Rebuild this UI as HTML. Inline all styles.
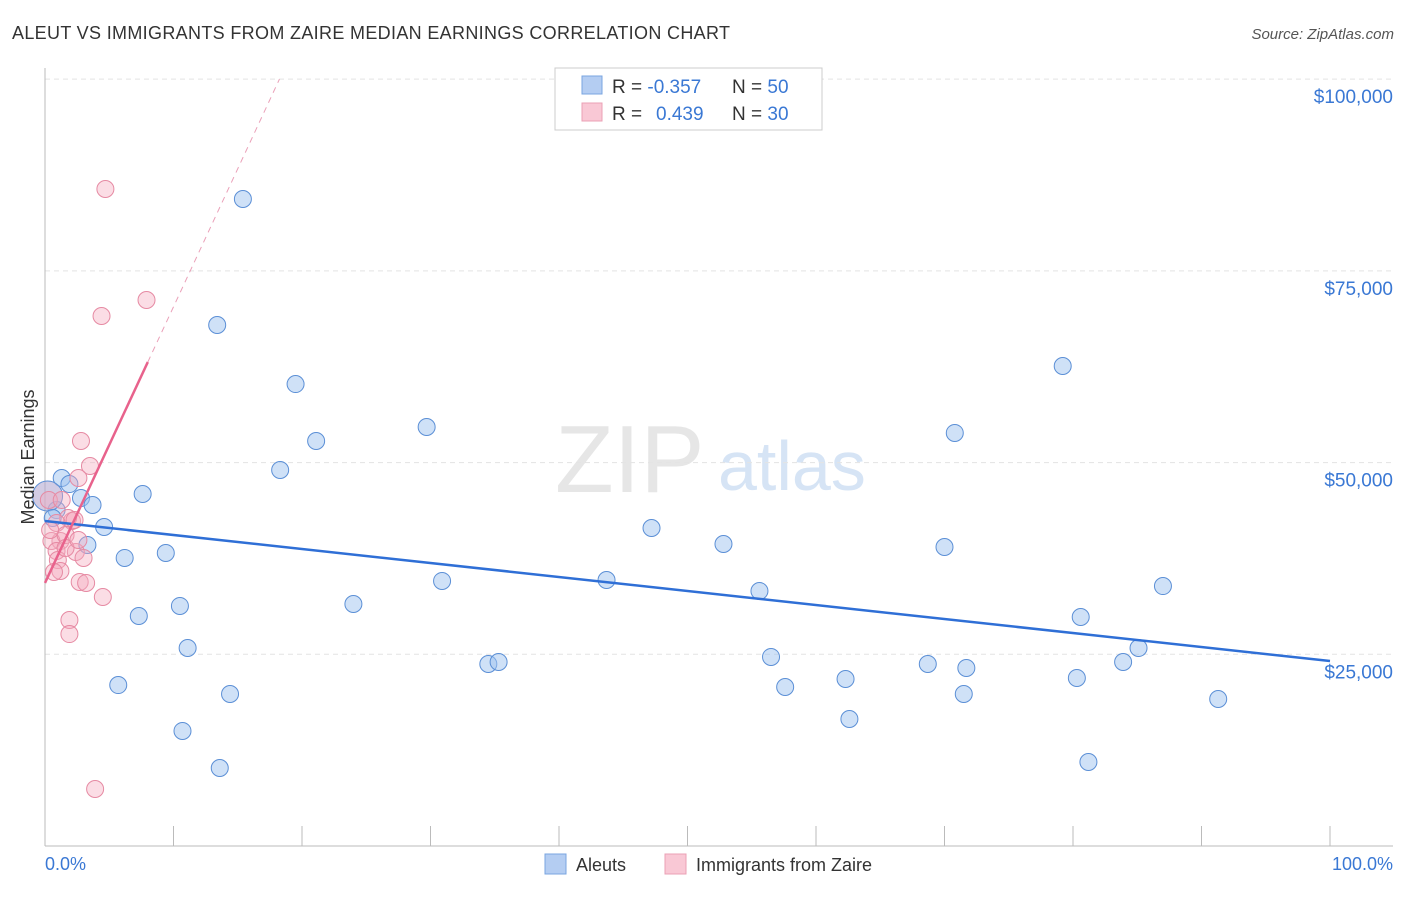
<!DOCTYPE html>
<html><head><meta charset="utf-8"><style>
body{margin:0;background:#fff;font-family:"Liberation Sans",sans-serif}
svg text{font-family:"Liberation Sans",sans-serif}
</style></head><body>
<svg id="chart" width="1406" height="892">
<text x="12" y="39" font-size="18" fill="#333" textLength="718" lengthAdjust="spacing">ALEUT VS IMMIGRANTS FROM ZAIRE MEDIAN EARNINGS CORRELATION CHART</text>
<text x="1394" y="39" font-size="15" fill="#555" text-anchor="end" font-style="italic">Source: ZipAtlas.com</text>
<text x="555" y="492" font-size="96" fill="#e6e6e6" font-family="Liberation Serif">ZIP</text>
<text x="718" y="490" font-size="70" fill="#d6e4f5">atlas</text>
<g id="grid"></g><g id="axes"></g><g id="marks"></g>
<text transform="translate(34,457) rotate(-90)" font-size="18" fill="#333" text-anchor="middle">Median Earnings</text>
<text x="45" y="870" font-size="18" fill="#3a78d4">0.0%</text>
<text x="1393" y="870" font-size="18" fill="#3a78d4" text-anchor="end">100.0%</text>
<g>
<rect x="555" y="68" width="267" height="62" fill="#fff" stroke="#ccc"/>
<rect x="582" y="76" width="20" height="18" fill="#b4cdf2" stroke="#7aa5e0"/>
<rect x="582" y="103" width="20" height="18" fill="#f9c8d5" stroke="#eba0b5"/>
<text x="612" y="93" font-size="19" fill="#333">R = <tspan fill="#3a78d4">-0.357</tspan><tspan x="732">N = </tspan><tspan fill="#3a78d4">50</tspan></text>
<text x="612" y="120" font-size="19" fill="#333">R = <tspan x="656" fill="#3a78d4">0.439</tspan><tspan x="732">N = </tspan><tspan fill="#3a78d4">30</tspan></text>
</g>
<g>
<rect x="545" y="854" width="21" height="20" fill="#b4cdf2" stroke="#7aa5e0"/>
<text x="576" y="871" font-size="18" fill="#333">Aleuts</text>
<rect x="665" y="854" width="21" height="20" fill="#f9c8d5" stroke="#eba0b5"/>
<text x="696" y="871" font-size="18" fill="#333">Immigrants from Zaire</text>
</g>
</svg>
<script>
const yTicks=[25000,50000,75000,100000];
const yTickLabels=["$25,000","$50,000","$75,000","$100,000"];
const aleutX=[1.3,1.9,0.9,2.8,3.7,4.6,3.3,6.2,7.6,9.4,7.3,10.5,11.1,5.7,14.4,10.7,13.6,15.4,13.4,19.5,21.1,18.3,24.0,29.7,30.9,34.5,35.3,43.7,47.2,52.8,55.6,56.5,57.6,62.3,62.6,68.7,70.8,70.0,71.7,71.5,79.2,80.6,80.3,81.2,83.9,85.1,87.0,91.3,0.2,0.6];
const aleutY=[47990,47200,43810,45380,44470,41600,39250,37560,45900,38210,29990,31300,25820,20990,19820,15000,10170,84370,67940,60240,52810,49030,31560,54640,34560,23730,23990,34690,41470,39380,33250,24650,20730,21780,16560,23730,53860,38990,23210,19820,62590,29860,21910,10950,23990,25820,33900,19170,45640,42770];
const zaireX=[4.7,4.4,7.9,2.8,3.5,2.6,2.1,1.8,0.9,1.2,0.5,0.9,1.6,1.0,2.4,3.0,1.2,0.7,2.7,3.2,4.5,1.9,1.9,3.9,0.3,1.3,2.3,0.4,1.6,2.6];
const zaireY=[85670,69110,71200,52810,49550,47990,42380,42770,42120,39770,39770,38470,40550,37290,38340,37560,35860,35730,34430,34300,32470,29470,27640,7430,45120,45120,42510,41210,38860,39900];
const aleutTrend=[42380,24120];
const zaireTrend=[34300,3601];
const NS='http://www.w3.org/2000/svg';
const X=p=>45+p*12.85, Y=v=>846-v/130.4;
function mk(t,a,p){const e=document.createElementNS(NS,t);for(const k in a)e.setAttribute(k,a[k]);p.appendChild(e);return e;}
const grid=document.getElementById('grid'),axes=document.getElementById('axes'),marks=document.getElementById('marks');
yTicks.forEach((v,i)=>{
 const l=mk('line',{x1:45,x2:1393,y1:Y(v),y2:Y(v),stroke:'#e3e3e3','stroke-dasharray':'5,4'},grid);
 
 
 const t=mk('text',{x:1393,y:Y(v)+24,'font-size':19,fill:'#3a78d4','text-anchor':'end'},grid);
 t.textContent=yTickLabels[i];
 
 
});
mk('line',{x1:45,x2:45,y1:68,y2:846,stroke:'#bbb'},axes);
mk('line',{x1:45,x2:1393,y1:846,y2:846,stroke:'#bbb'},axes);
for(let i=0;i<=10;i++){const t=mk('line',{x1:X(i*10),x2:X(i*10),y1:826,y2:846,stroke:'#bbb'},axes);
 
 }
aleutX.forEach((x,i)=>{const big=i===48;
 const c=mk('circle',{cx:X(x),cy:Y(aleutY[i]),r:big?15:8.5,fill:big?'rgba(180,170,210,0.6)':'rgba(160,195,240,0.5)',stroke:'#5b8fd6','stroke-width':1},marks);
 
 });
zaireX.forEach((x,i)=>{
 const c=mk('circle',{cx:X(x),cy:Y(zaireY[i]),r:8.5,fill:'rgba(245,170,190,0.4)',stroke:'#e68aa3','stroke-width':1},marks);
 
 });
const bl=mk('line',{x1:X(0),y1:Y(aleutTrend[0]),x2:X(100),y2:Y(aleutTrend[1]),stroke:'#2f6fd6','stroke-width':2.5},marks);


const xe=8;
const pl=mk('line',{x1:X(0),y1:Y(zaireTrend[0]),x2:X(xe),y2:Y(zaireTrend[0]+zaireTrend[1]*xe),stroke:'#e8628c','stroke-width':2.5},marks);


const xd=(100000-zaireTrend[0])/zaireTrend[1];
const pd=mk('line',{x1:X(xe),y1:Y(zaireTrend[0]+zaireTrend[1]*xe),x2:X(xd),y2:Y(100000),stroke:'#eaa0b8','stroke-width':1,'stroke-dasharray':'6,5'},marks);


</script>
</body></html>
